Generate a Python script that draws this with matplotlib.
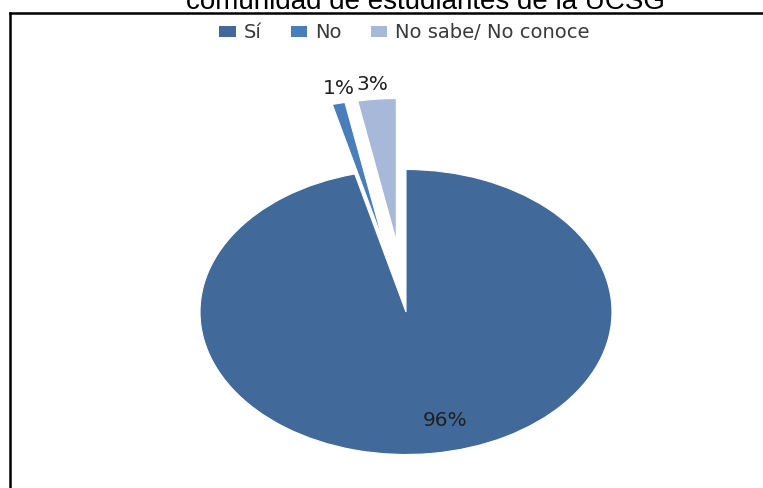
import matplotlib
matplotlib.use("Agg")
import matplotlib.pyplot as plt
from matplotlib.patches import Patch
from matplotlib.lines import Line2D

# Survey answers (percent of respondents)
categories = ["Sí", "No", "No sabe/ No conoce"]
values = [96, 1, 3]
colors = ["#416A9B", "#4A7EBB", "#A8B8D8"]
explode = [0.0, 0.5, 0.5]
title = "comunidad de estudiantes de la UCSG"

W, H = 763, 488
fig = plt.figure(figsize=(W / 100, H / 100), dpi=100)
ax = fig.add_axes([0, 0, 1, 1])

# pie center and radii in pixels (pie is drawn as an ellipse)
cx, cy, rx, ry = 406, 312, 206, 142.5

wedges, _, autotexts = ax.pie(
    values, colors=colors, explode=explode, startangle=90, counterclock=False,
    autopct="%d%%", wedgeprops=dict(edgecolor="white", linewidth=0.8),
    textprops=dict(fontsize=14.5, color="#1f1f1f", family="DejaVu Sans"),
)
ax.set_aspect("auto")
ax.set_xlim(-cx / rx, (W - cx) / rx)
ax.set_ylim((cy - H) / ry, cy / ry)
ax.axis("off")

# percentage label positions (pixels)
label_px = [(445, 420), (339, 88), (372, 85)]
for t, (px, py) in zip(autotexts, label_px):
    t.set_position(((px - cx) / rx, (cy - py) / ry))
    t.set_ha("center")
    t.set_va("center")

# legend across the top
handles = [Patch(facecolor=c, edgecolor="none") for c in colors]
fig.legend(handles, categories, loc="center", bbox_to_anchor=(404.5 / W, 1 - 33 / H),
           ncol=3, frameon=False, handlelength=0.85, handleheight=0.55,
           handletextpad=0.4, columnspacing=1.5,
           prop=dict(family="DejaVu Sans", size=14), labelcolor="#3a3a3a")

# title, partly above the canvas
fig.text(425 / W, 1 - 9 / H, title, ha="center", va="baseline",
         family="Liberation Sans", fontsize=20, color="black")

# frame lines (top and left)
fig.add_artist(Line2D([9.5 / W, 1], [1 - 13 / H, 1 - 13 / H], color="black", lw=1.8,
                      transform=fig.transFigure))
fig.add_artist(Line2D([9.5 / W, 9.5 / W], [0, 1 - 13 / H], color="black", lw=1.8,
                      transform=fig.transFigure))

fig.savefig("out.png", dpi=100)
